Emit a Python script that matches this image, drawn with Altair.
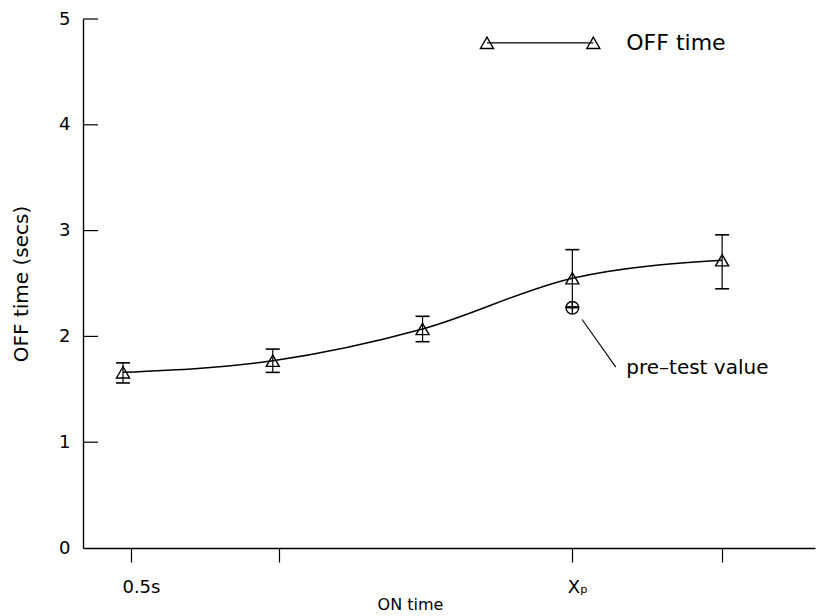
import altair as alt
import pandas as pd

# ---- data ----
positions = [1, 2, 3, 4, 5]
off_time = [1.66, 1.77, 2.07, 2.55, 2.72]
err_low = [1.56, 1.66, 1.95, 2.28, 2.45]
err_high = [1.75, 1.88, 2.19, 2.82, 2.96]

pretest_pos = [4]
pretest_val = [2.27]

y_tick_values = [0, 1, 2, 3, 4, 5]
x_tick_values = [1.053, 2.04, 4.0, 5.0]

# annotation anchors (data units)
leader_x = [4.065, 4.29]
leader_y = [2.16, 1.71]
note_xy = [4.36, 1.70]
legend_x = [3.43, 4.14]
legend_y = 4.775
legend_text_x = 4.36

FONT = "DejaVu Sans"
W, H = 732, 529

df = pd.DataFrame({"pos": positions, "off": off_time, "lo": err_low, "hi": err_high})
xs = alt.Scale(domain=[0.733, 5.62], nice=False, zero=False)
ys = alt.Scale(domain=[0, 5], nice=False)

label_expr = ("datum.value < 1.5 ? '0.5s' : ((datum.value > 3.5 && datum.value < 4.5) ? 'Xₚ' : '')")

base = alt.Chart(df)

line = base.mark_line(interpolate="monotone", color="black", strokeWidth=1.5).encode(
    x=alt.X("pos:Q", scale=xs, axis=alt.Axis(
        values=x_tick_values, labelExpr=label_expr, grid=False, tickSize=14,
        tickColor="black", domainColor="black", domainWidth=1.6, tickWidth=1.2,
        labelFont=FONT, labelFontSize=18, labelColor="black", labelPadding=16,
        labelOffset={"condition": {"test": "datum.value < 1.5", "value": 10}, "value": 5},
        title="ON time", titleFont=FONT, titleFontSize=16, titleFontWeight="normal",
        titleColor="black", titleX=327, titlePadding=0)),
    y=alt.Y("off:Q", scale=ys, axis=alt.Axis(
        values=y_tick_values, format="d", grid=False, ticks=False, domainColor="black",
        domainWidth=1.4, labelFont=FONT, labelFontSize=18, labelColor="black",
        labelPadding=13, title="OFF time (secs)", titleFont=FONT, titleFontSize=20,
        titleFontWeight="normal", titleColor="black", titlePadding=27)),
)

pts = base.mark_point(shape="triangle-up", filled=False, size=170, color="black",
                      strokeWidth=1.4, opacity=1).encode(
    x=alt.X("pos:Q", scale=xs), y=alt.Y("off:Q", scale=ys))

err = base.mark_rule(color="black", strokeWidth=1.2).encode(
    x=alt.X("pos:Q", scale=xs), y=alt.Y("lo:Q", scale=ys), y2="hi:Q")

cap_lo = base.mark_tick(orient="horizontal", size=14, thickness=1.6, color="black", opacity=1).encode(
    x=alt.X("pos:Q", scale=xs), y=alt.Y("lo:Q", scale=ys))
cap_hi = base.mark_tick(orient="horizontal", size=14, thickness=1.6, color="black", opacity=1).encode(
    x=alt.X("pos:Q", scale=xs), y=alt.Y("hi:Q", scale=ys))

# inward y ticks
ytick_df = pd.DataFrame({"v": y_tick_values[1:]})
yticks = alt.Chart(ytick_df).mark_rule(color="black", strokeWidth=1.2).encode(
    y=alt.Y("v:Q", scale=ys), x=alt.value(0), x2=alt.value(15))

# pre-test marker (circle with cross)
pre_df = pd.DataFrame({"pos": pretest_pos, "val": pretest_val})
circle_cross = "M-1,0A1,1,0,1,1,1,0A1,1,0,1,1,-1,0M-1,0L1,0M0,-1L0,1"
pre = alt.Chart(pre_df).mark_point(shape=circle_cross, filled=False, size=160, color="black",
                                   strokeWidth=1.4, opacity=1).encode(
    x=alt.X("pos:Q", scale=xs), y=alt.Y("val:Q", scale=ys))

lead_df = pd.DataFrame({"x": [leader_x[0]], "y": [leader_y[0]], "x2": [leader_x[1]], "y2": [leader_y[1]]})
leader = alt.Chart(lead_df).mark_rule(color="black", strokeWidth=1.1).encode(
    x=alt.X("x:Q", scale=xs), y=alt.Y("y:Q", scale=ys), x2="x2:Q", y2="y2:Q")

note_df = pd.DataFrame({"x": [note_xy[0]], "y": [note_xy[1]], "t": ["pre\u2013test value"]})
note = alt.Chart(note_df).mark_text(align="left", baseline="middle", font=FONT, fontSize=20,
                                    color="black").encode(
    x=alt.X("x:Q", scale=xs), y=alt.Y("y:Q", scale=ys), text="t:N")

# legend
leg_df = pd.DataFrame({"x": legend_x, "y": [legend_y, legend_y]})
leg_line = alt.Chart(leg_df).mark_line(color="black", strokeWidth=1.3).encode(
    x=alt.X("x:Q", scale=xs), y=alt.Y("y:Q", scale=ys))
leg_pts = alt.Chart(leg_df).mark_point(shape="triangle-up", filled=False, size=170, color="black",
                                       strokeWidth=1.4, opacity=1).encode(
    x=alt.X("x:Q", scale=xs), y=alt.Y("y:Q", scale=ys))
leg_txt_df = pd.DataFrame({"x": [legend_text_x], "y": [legend_y], "t": ["OFF time"]})
leg_txt = alt.Chart(leg_txt_df).mark_text(align="left", baseline="middle", font=FONT, fontSize=22,
                                          color="black").encode(
    x=alt.X("x:Q", scale=xs), y=alt.Y("y:Q", scale=ys), text="t:N")

chart = alt.layer(line, err, cap_lo, cap_hi, pts, yticks, pre, leader, note,
                  leg_line, leg_pts, leg_txt).properties(
    width=W, height=H,
    autosize=alt.AutoSizeParams(type="none"),
    padding={"left": 83, "top": 19, "right": 4, "bottom": 68},
    background="white",
).configure_view(stroke=None)

chart.save("out.html", embed_options={"renderer": "svg", "actions": False})
